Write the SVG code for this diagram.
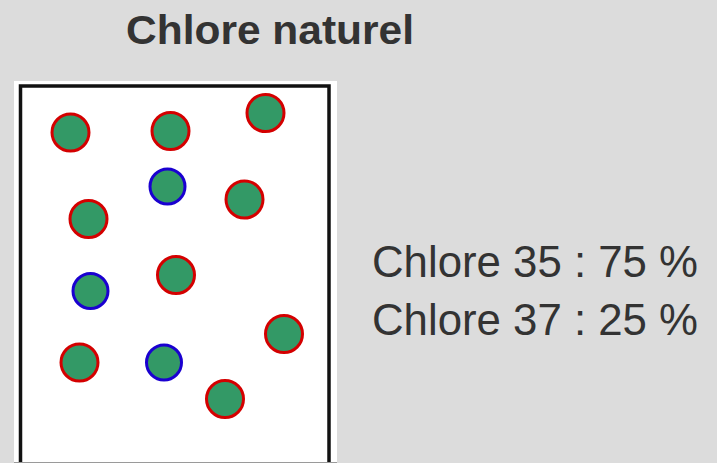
<svg xmlns="http://www.w3.org/2000/svg" width="717" height="463" viewBox="0 0 717 463">
  <style>
    .title { font-family: "Liberation Sans", "DejaVu Sans", sans-serif; font-weight: bold; font-size: 40px; fill: #333333; }
    .label { font-family: "Liberation Sans", "DejaVu Sans", sans-serif; font-size: 44px; fill: #333333; }
    .cl35 { fill: #339966; stroke: #d40000; stroke-width: 3; }
    .cl37 { fill: #339966; stroke: #1a00d0; stroke-width: 3; }
  </style>
  <rect x="0" y="0" width="717" height="463" fill="#dcdcdc"/>
  <g id="title">
    <text class="title" x="126" y="44" textLength="288" lengthAdjust="spacingAndGlyphs">Chlore naturel</text>
  </g>
  <g id="box">
    <rect x="14" y="81" width="323" height="385" fill="#ffffff"/>
    <rect x="20.5" y="86" width="308.5" height="400" fill="none" stroke="#111111" stroke-width="3.5"/>
    <line x1="14" y1="462.5" x2="337" y2="462.5" stroke="#9a9a9a" stroke-width="1"/>
  </g>
  <g id="atoms">
    <circle class="cl35" cx="70.5" cy="132.5" r="18.5"/>
    <circle class="cl35" cx="170.5" cy="131" r="18.5"/>
    <circle class="cl35" cx="265.5" cy="113" r="18.5"/>
    <circle class="cl37" cx="167.5" cy="186.5" r="17.5"/>
    <circle class="cl35" cx="244.5" cy="199.5" r="18.5"/>
    <circle class="cl35" cx="88.5" cy="219" r="18.5"/>
    <circle class="cl37" cx="90.5" cy="291" r="17.5"/>
    <circle class="cl35" cx="176" cy="275" r="18.5"/>
    <circle class="cl35" cx="284" cy="334" r="18.5"/>
    <circle class="cl35" cx="79.5" cy="362.5" r="18.5"/>
    <circle class="cl37" cx="164" cy="362.5" r="17.5"/>
    <circle class="cl35" cx="225" cy="399" r="18.5"/>
  </g>
  <g id="legend">
    <text class="label" x="372" y="277" textLength="326" lengthAdjust="spacingAndGlyphs">Chlore 35 : 75 %</text>
    <text class="label" x="372" y="335" textLength="326" lengthAdjust="spacingAndGlyphs">Chlore 37 : 25 %</text>
  </g>
</svg>
